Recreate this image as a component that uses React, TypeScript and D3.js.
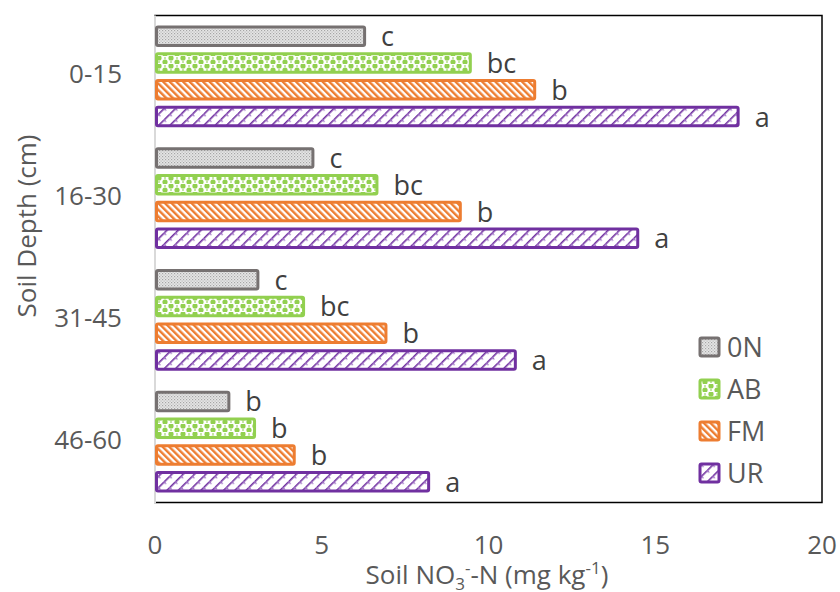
import React, { useEffect, useRef } from "react";
import * as d3 from "d3";

// soil depth classes (top to bottom)
const depths = ["0-15", "16-30", "31-45", "46-60"];
const treatments = ["0N", "AB", "FM", "UR"];

// Soil NO3--N (mg kg-1), one array per treatment, by depth
const valuesON = [6.33, 4.78, 3.13, 2.26];
const valuesAB = [9.5, 6.7, 4.5, 3.03];
const valuesFM = [11.43, 9.2, 6.97, 4.22];
const valuesUR = [17.53, 14.52, 10.85, 8.25];

// significance letters, by depth
const lettersON = ["c", "c", "c", "b"];
const lettersAB = ["bc", "bc", "bc", "b"];
const lettersFM = ["b", "b", "b", "b"];
const lettersUR = ["a", "a", "a", "a"];

const xTicks = [0, 5, 10, 15, 20];

const strokeColors = ["#767171", "#92d050", "#ed7d31", "#7030a0"];

const App = () => {
  const svgRef = useRef<SVGSVGElement>(null);

  useEffect(() => {
    const width = 840;
    const height = 592;
    const plot = { left: 155, right: 822, top: 15.5, bottom: 502.5 };
    const font = "'Open Sans', 'Noto Sans', sans-serif";

    const svg = d3.select(svgRef.current).attr("width", width).attr("height", height);
    svg.selectAll("*").remove();

    const series = [valuesON, valuesAB, valuesFM, valuesUR];
    const letters = [lettersON, lettersAB, lettersFM, lettersUR];

    // patterns
    const defs = svg.append("defs");

    const pGray = defs.append("pattern").attr("id", "p0").attr("patternUnits", "userSpaceOnUse")
      .attr("width", 3).attr("height", 3);
    pGray.append("rect").attr("width", 3).attr("height", 3).attr("fill", "#e6e6e6");
    pGray.append("rect").attr("x", 0).attr("y", 0).attr("width", 1.2).attr("height", 1.2).attr("fill", "#a6a6a6");
    pGray.append("rect").attr("x", 1.5).attr("y", 1.5).attr("width", 1.2).attr("height", 1.2).attr("fill", "#b8b8b8");

    const pGreen = defs.append("pattern").attr("id", "p1").attr("patternUnits", "userSpaceOnUse")
      .attr("width", 12).attr("height", 8);
    pGreen.append("rect").attr("width", 12).attr("height", 8).attr("fill", "#fff");
    pGreen.append("circle").attr("cx", 3).attr("cy", 2).attr("r", 2.6).attr("fill", "#92d050");
    pGreen.append("circle").attr("cx", 9).attr("cy", 6).attr("r", 2.6).attr("fill", "#92d050");
    pGreen.append("rect").attr("x", 8).attr("y", 1).attr("width", 2).attr("height", 2).attr("fill", "#c5e6a6");
    pGreen.append("rect").attr("x", 2).attr("y", 5).attr("width", 2).attr("height", 2).attr("fill", "#c5e6a6");

    const pOrange = defs.append("pattern").attr("id", "p2").attr("patternUnits", "userSpaceOnUse")
      .attr("width", 4.7).attr("height", 4.7).attr("patternTransform", "rotate(-45)");
    pOrange.append("rect").attr("width", 4.7).attr("height", 4.7).attr("fill", "#fff");
    pOrange.append("rect").attr("width", 2.4).attr("height", 4.7).attr("fill", "#ed7d31");

    const pPurple = defs.append("pattern").attr("id", "p3").attr("patternUnits", "userSpaceOnUse")
      .attr("width", 8).attr("height", 8).attr("patternTransform", "rotate(45)");
    pPurple.append("rect").attr("width", 8).attr("height", 8).attr("fill", "#fff");
    pPurple.append("rect").attr("width", 1.6).attr("height", 8).attr("fill", "#7030a0");
    pPurple.append("rect").attr("x", 0).attr("y", 0).attr("width", 3.5).attr("height", 1.4).attr("fill", "#9c6cc4");

    // scales
    const x = d3.scaleLinear().domain([0, 20]).range([plot.left, plot.right]);
    const y = d3.scaleBand().domain(depths).range([plot.top, plot.bottom]).paddingInner(0.12).paddingOuter(0.06);
    const yInner = d3.scaleBand().domain(treatments).range([0, y.bandwidth()]).paddingInner(0.2).paddingOuter(0.1);

    // frame
    svg.append("rect")
      .attr("x", plot.left).attr("y", plot.top)
      .attr("width", plot.right - plot.left).attr("height", plot.bottom - plot.top)
      .attr("fill", "none").attr("stroke", "#000").attr("stroke-width", 1.5);
    svg.append("line")
      .attr("x1", plot.left).attr("x2", plot.left).attr("y1", plot.top).attr("y2", plot.bottom + 1)
      .attr("stroke", "#d9d9d9").attr("stroke-width", 2);

    // bars
    treatments.forEach((t, i) => {
      const g = svg.append("g");
      g.selectAll("rect").data(series[i]).join("rect")
        .attr("x", x(0) + 1.5)
        .attr("y", (_, j) => (y(depths[j]) as number) + (yInner(t) as number) + 1.5)
        .attr("width", d => x(d) - x(0) - 3)
        .attr("height", yInner.bandwidth() - 3)
        .attr("rx", 1.5)
        .attr("fill", `url(#p${i})`)
        .attr("stroke", strokeColors[i])
        .attr("stroke-width", 3);

      g.selectAll("text").data(series[i]).join("text")
        .attr("x", d => x(d) + 15)
        .attr("y", (_, j) => (y(depths[j]) as number) + (yInner(t) as number) + yInner.bandwidth() / 2 + 10)
        .attr("font-family", font).attr("font-size", 27).attr("fill", "#404040")
        .text((_, j) => letters[i][j]);
    });

    // x tick labels
    svg.append("g").selectAll("text").data(xTicks).join("text")
      .attr("x", d => x(d))
      .attr("y", 554)
      .attr("text-anchor", "middle")
      .attr("font-family", font).attr("font-size", 26).attr("fill", "#595959")
      .text(d => d);

    // y tick labels
    svg.append("g").selectAll("text").data(depths).join("text")
      .attr("x", 122)
      .attr("y", d => (y(d) as number) + y.bandwidth() / 2 + 7)
      .attr("text-anchor", "end")
      .attr("font-family", font).attr("font-size", 26).attr("fill", "#595959")
      .text(d => d);

    // axis titles
    svg.append("text")
      .attr("transform", "translate(36,226) rotate(-90)")
      .attr("text-anchor", "middle")
      .attr("font-family", font).attr("font-size", 26).attr("fill", "#595959")
      .text("Soil Depth (cm)");

    const xt = svg.append("text")
      .attr("x", 487).attr("y", 584)
      .attr("text-anchor", "middle")
      .attr("font-family", font).attr("font-size", 26).attr("fill", "#595959");
    xt.append("tspan").text("Soil NO");
    xt.append("tspan").attr("font-size", 17).attr("dy", 6).text("3");
    xt.append("tspan").attr("font-size", 17).attr("dy", -16).text("-");
    xt.append("tspan").attr("dy", 10).text("-N (mg kg");
    xt.append("tspan").attr("font-size", 17).attr("dy", -10).text("-1");
    xt.append("tspan").attr("dy", 10).text(")");

    // legend
    const legend = svg.append("g");
    treatments.forEach((t, i) => {
      const cy = 347 + i * 42;
      legend.append("rect")
        .attr("x", 700).attr("y", cy - 9).attr("width", 19).attr("height", 18).attr("rx", 1.5)
        .attr("fill", `url(#p${i})`).attr("stroke", strokeColors[i]).attr("stroke-width", 3);
      legend.append("text")
        .attr("x", 727).attr("y", cy + 10)
        .attr("font-family", font).attr("font-size", 27).attr("fill", "#595959")
        .text(t);
    });
  }, []);

  return <svg ref={svgRef} style={{ position: "absolute", left: 0, top: 0 }}></svg>;
};

export default App;
